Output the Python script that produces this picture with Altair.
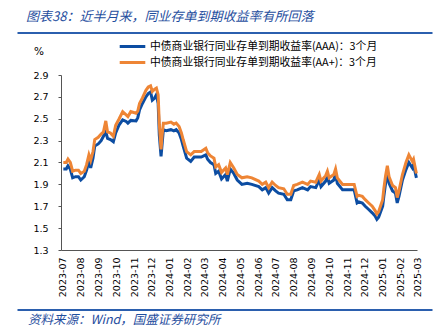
import altair as alt
import pandas as pd

dates = [
    "2023-07-02", "2023-07-07", "2023-07-10", "2023-07-14", "2023-07-18", "2023-07-23", "2023-07-28",
    "2023-08-01", "2023-08-07", "2023-08-11", "2023-08-15", "2023-08-18", "2023-08-22", "2023-08-25",
    "2023-08-31", "2023-09-05", "2023-09-09", "2023-09-13", "2023-09-16", "2023-09-21", "2023-09-26",
    "2023-09-30", "2023-10-06", "2023-10-12", "2023-10-18", "2023-10-21", "2023-10-26", "2023-11-04",
    "2023-11-07", "2023-11-10", "2023-11-15", "2023-11-21", "2023-11-25", "2023-11-29", "2023-12-02",
    "2023-12-06", "2023-12-09", "2023-12-12", "2023-12-14", "2023-12-17", "2023-12-19", "2023-12-21",
    "2023-12-26", "2024-01-03", "2024-01-08", "2024-01-12", "2024-01-17", "2024-01-21", "2024-01-24",
    "2024-01-30", "2024-02-06", "2024-02-12", "2024-02-18", "2024-02-24", "2024-03-03", "2024-03-06",
    "2024-03-11", "2024-03-17", "2024-03-20", "2024-03-25", "2024-03-30", "2024-04-06", "2024-04-09",
    "2024-04-14", "2024-04-20", "2024-04-26", "2024-05-04", "2024-05-13", "2024-05-21", "2024-06-02",
    "2024-06-08", "2024-06-14", "2024-06-19", "2024-06-25", "2024-07-01", "2024-07-06", "2024-07-15",
    "2024-07-21", "2024-07-27", "2024-08-01", "2024-08-07", "2024-08-16", "2024-08-25", "2024-08-30",
    "2024-09-08", "2024-09-14", "2024-09-17", "2024-09-25", "2024-09-28", "2024-10-01", "2024-10-09",
    "2024-10-12", "2024-10-15", "2024-10-24", "2024-11-01", "2024-11-13", "2024-11-18", "2024-11-21",
    "2024-11-27", "2024-12-02", "2024-12-08", "2024-12-14", "2024-12-19", "2024-12-22", "2024-12-25",
    "2025-01-01", "2025-01-03", "2025-01-06", "2025-01-09", "2025-01-12", "2025-01-18", "2025-01-23",
    "2025-01-26", "2025-01-29", "2025-02-04", "2025-02-10", "2025-02-15", "2025-02-21", "2025-02-23",
    "2025-02-28",
]

aaa = [
    2.04, 2.04, 2.07, 2.04, 1.96, 1.97, 1.97,
    1.94, 1.97, 2.03, 2.11, 2.05, 2.14, 2.25,
    2.27, 2.30, 2.34, 2.38, 2.32, 2.31, 2.29,
    2.37, 2.445, 2.49, 2.475, 2.46, 2.485, 2.48,
    2.51, 2.58, 2.64, 2.70, 2.73, 2.745, 2.67,
    2.69, 2.72, 2.64, 2.35, 2.155, 2.28, 2.40,
    2.39, 2.40, 2.39, 2.40, 2.37, 2.31, 2.25,
    2.14, 2.11, 2.15, 2.15, 2.15, 2.17, 2.13,
    2.10, 2.08, 2.00, 2.02, 1.95, 1.99, 1.93,
    2.04, 2.00, 1.94, 1.90, 1.91, 1.90, 1.88,
    1.85, 1.87, 1.82, 1.87, 1.84, 1.82, 1.81,
    1.76, 1.76, 1.84, 1.85, 1.87, 1.85, 1.88,
    1.87, 1.94, 1.88, 1.93, 1.97, 1.91, 1.94,
    2.00, 1.91, 1.85, 1.85, 1.85, 1.73, 1.74,
    1.73, 1.70, 1.67, 1.64, 1.61, 1.58, 1.60,
    1.70, 1.79, 1.91, 2.00, 1.91, 1.84, 1.82,
    1.73, 1.79, 1.94, 2.035, 2.10, 2.05, 2.08,
    1.96,
]

aa_plus = [
    2.10, 2.10, 2.13, 2.10, 2.02, 2.03, 2.03,
    2.00, 2.02, 2.08, 2.17, 2.12, 2.20, 2.31,
    2.33, 2.36, 2.38, 2.48, 2.38, 2.37, 2.34,
    2.44, 2.50, 2.565, 2.535, 2.52, 2.565, 2.55,
    2.57, 2.64, 2.69, 2.76, 2.79, 2.80, 2.75,
    2.77, 2.78, 2.72, 2.45, 2.22, 2.36, 2.46,
    2.46, 2.47, 2.45, 2.46, 2.43, 2.37, 2.31,
    2.20, 2.17, 2.20, 2.20, 2.20, 2.23, 2.19,
    2.16, 2.14, 2.06, 2.08, 2.01, 2.05, 1.99,
    2.10, 2.05, 1.99, 1.96, 1.97, 1.96, 1.93,
    1.90, 1.92, 1.87, 1.92, 1.89, 1.87, 1.86,
    1.81, 1.81, 1.89, 1.90, 1.92, 1.90, 1.93,
    1.92, 1.99, 1.93, 1.98, 2.02, 1.96, 1.99,
    2.04, 1.96, 1.90, 1.90, 1.90, 1.79, 1.80,
    1.79, 1.76, 1.73, 1.70, 1.66, 1.63, 1.65,
    1.76, 1.86, 1.98, 2.07, 1.97, 1.89, 1.87,
    1.78, 1.84, 1.99, 2.10, 2.17, 2.11, 2.13,
    2.00,
]

series_names = [
    "中债商业银行同业存单到期收益率(AAA)：3个月",
    "中债商业银行同业存单到期收益率(AA+)：3个月",
]
series_colors = ["#0C4DA2", "#EE8535"]
y_ticks = [1.3, 1.5, 1.7, 1.9, 2.1, 2.3, 2.5, 2.7, 2.9]
month_ticks = [
    "2023-07", "2023-08", "2023-09", "2023-10", "2023-11", "2023-12",
    "2024-01", "2024-02", "2024-03", "2024-04", "2024-05", "2024-06",
    "2024-07", "2024-08", "2024-09", "2024-10", "2024-11", "2024-12",
    "2025-01", "2025-02", "2025-03",
]
title_text = "图表38：近半月来，同业存单到期收益率有所回落"
source_text = "资料来源：Wind，国盛证券研究所"
unit_text = "%"

n = len(dates)
df = pd.DataFrame({
    "date": dates + dates,
    "value": aaa + aa_plus,
    "series": [series_names[0]] * n + [series_names[1]] * n,
})

def dt(s, day=1):
    return alt.DateTime(year=int(s[:4]), month=int(s[5:7]), date=day, utc=True)

tick_values = [dt(m) for m in month_ticks]

FONT = "DejaVu Sans"
CJK = "Noto Sans CJK SC"
DECO = "#2B5FAE"

lines = alt.Chart(df).mark_line(strokeWidth=3).encode(
    x=alt.X(
        "date:T",
        scale=alt.Scale(type="utc", domain=[alt.DateTime(year=2023, month=6, date=28, utc=True), dt("2025-03")]),
        axis=alt.Axis(
            values=tick_values, format="%Y-%m", labelAngle=-90, title=None, grid=False,
            ticks=False, labelPadding=7, labelFont=FONT, labelFontSize=9.5, labelColor="#000000",
            domainColor="#555555", labelOverlap=False, labelAlign="right", labelBaseline="middle",
        ),
    ),
    y=alt.Y(
        "value:Q",
        scale=alt.Scale(domain=[1.3, 2.9], nice=False, zero=False),
        axis=alt.Axis(
            values=y_ticks, format=".1f", title=None, grid=False, tickSize=3, tickColor="#555555",
            labelPadding=10, labelFont=FONT, labelFontSize=9.5, labelColor="#000000",
            domainColor="#555555",
        ),
    ),
    color=alt.Color(
        "series:N",
        scale=alt.Scale(domain=series_names, range=series_colors),
        legend=alt.Legend(
            title=None, orient="none", legendX=62, legendY=-38, direction="vertical",
            symbolType="M-1.6,0H1.6", symbolSize=256, symbolStrokeWidth=3,
            labelFont=CJK, labelFontSize=10.8, labelColor="#000000", labelOffset=8,
            rowPadding=0, padding=0, labelLimit=400,
        ),
    ),
)

title_df = pd.DataFrame({"t": [title_text]})
title = alt.Chart(title_df).mark_text(
    align="left", baseline="middle", font=CJK, fontSize=13, fontStyle="italic", color="#1F4E9E"
).encode(x=alt.value(-35), y=alt.value(-58), text="t:N")

source_df = pd.DataFrame({"t": [source_text]})
source = alt.Chart(source_df).mark_text(
    align="left", baseline="middle", font=CJK, fontSize=12.5, fontStyle="italic", color="#1F4E9E"
).encode(x=alt.value(-33), y=alt.value(245), text="t:N")

unit_df = pd.DataFrame({"t": [unit_text]})
unit = alt.Chart(unit_df).mark_text(
    align="center", baseline="middle", font=FONT, fontSize=10.5, color="#000000"
).encode(x=alt.value(-22), y=alt.value(-23), text="t:N")

top_rule = alt.Chart(title_df).mark_rule(color=DECO, strokeWidth=2).encode(
    x=alt.value(-43.5), x2=alt.value(371.5), y=alt.value(-42)
)
bottom_rule = alt.Chart(title_df).mark_rule(color=DECO, strokeWidth=2).encode(
    x=alt.value(-43.5), x2=alt.value(371.5), y=alt.value(235)
)

chart = alt.layer(lines, title, source, unit, top_rule, bottom_rule).properties(
    width=356, height=175,
    autosize=alt.AutoSizeParams(type="none"),
    padding={"left": 61, "top": 75, "right": 22, "bottom": 82},
    background="#FFFFFF",
).configure_view(stroke=None)

chart.save("out.html", embed_options={"renderer": "svg", "actions": False})
